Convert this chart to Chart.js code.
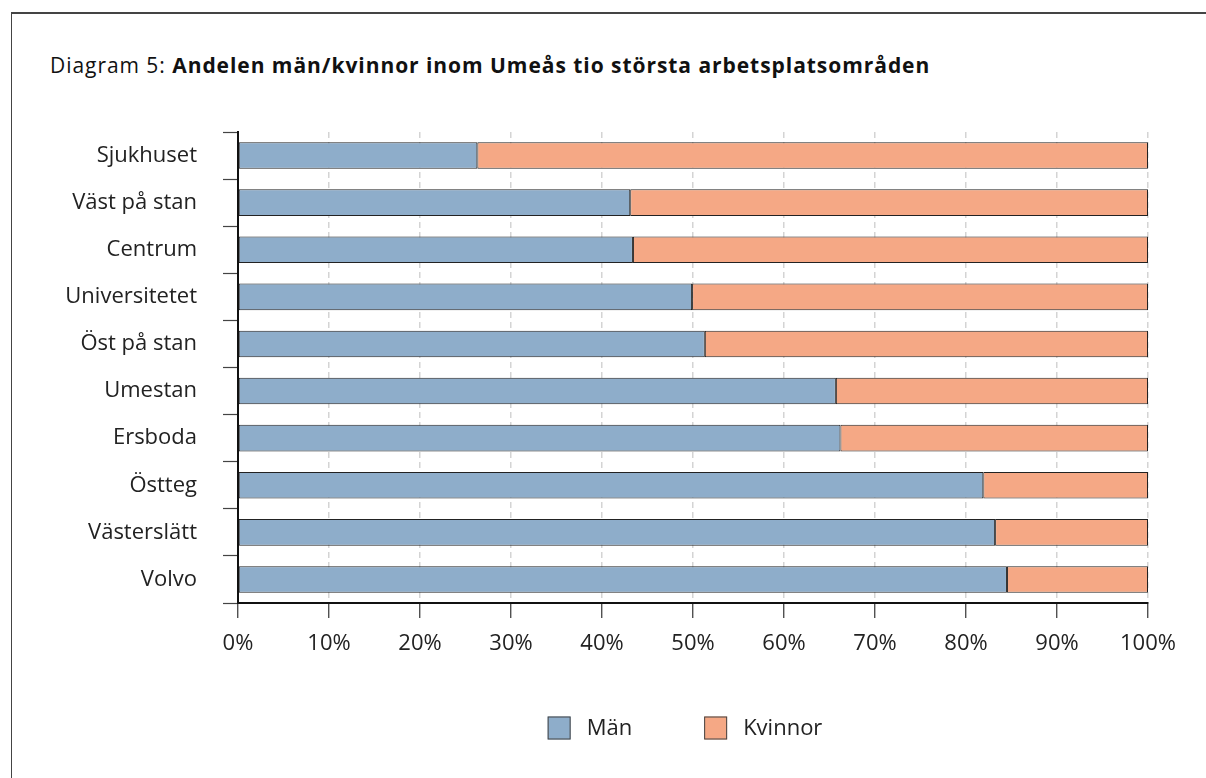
<!DOCTYPE html>
<html>
<head>
<meta charset="utf-8">
<script src="https://cdn.jsdelivr.net/npm/chart.js@4/dist/chart.umd.min.js"></script>
<style>
  body { margin: 0; background: #fff; }
  #frame { position: absolute; left: 11px; top: 12px; width: 1300px; height: 900px;
           border-top: 2px solid #444; border-left: 1.5px solid #444; }
  #title { position: absolute; left: 50px; top: 51px; font-family: 'Open Sans', sans-serif;
           font-size: 21px; letter-spacing: 0.95px; color: #111; white-space: nowrap; }
  #title b { font-weight: bold; }
  #wrap { position: absolute; left: 0; top: 0; width: 1206px; height: 778px; }
</style>
</head>
<body>
<div id="frame"></div>
<div id="title">Diagram 5: <b>Andelen män/kvinnor inom Umeås tio största arbetsplatsområden</b></div>
<div id="wrap"><canvas id="myChart" width="1206" height="778"></canvas></div>
<script>
// arbetsplatsområden, från toppen
const areas = ['Sjukhuset', 'Väst på stan', 'Centrum', 'Universitetet', 'Öst på stan',
               'Umestan', 'Ersboda', 'Östteg', 'Västerslätt', 'Volvo'];
// andel i procent
const men   = [26.3, 43.1, 43.4, 49.9, 51.3, 65.7, 66.2, 81.9, 83.2, 84.5];
const women = [73.7, 56.9, 56.6, 50.1, 48.7, 34.3, 33.8, 18.1, 16.8, 15.5];
const seriesNames = ['Män', 'Kvinnor'];
const xTicks = [0, 10, 20, 30, 40, 50, 60, 70, 80, 90, 100];

Chart.defaults.font.family = "'Open Sans', sans-serif";
Chart.defaults.font.size = 22;
Chart.defaults.color = '#222';

// legend under the chart, drawn by hand so the spacing matches
const bottomLegend = {
    id: 'bottomLegend',
    afterDraw(chart) {
        const c = chart.ctx;
        const area = chart.chartArea;
        const sets = chart.data.datasets;
        const box = 23, gap = 16, spacing = 72;
        c.save();
        c.font = "22px 'Open Sans', sans-serif";
        c.textBaseline = 'middle';
        const widths = sets.map(d => box + gap + c.measureText(d.label).width);
        const total = widths.reduce((a, b) => a + b, 0) + spacing * (sets.length - 1);
        let x = (area.left + area.right) / 2 - 8 - total / 2;
        const y = area.bottom + 125;
        sets.forEach((d, i) => {
            c.fillStyle = d.backgroundColor;
            c.fillRect(x, y - box / 2, box, box);
            c.lineWidth = 1;
            c.strokeStyle = '#444';
            c.strokeRect(x + 0.5, y - box / 2 + 0.5, box - 1, box - 1);
            c.fillStyle = '#222';
            c.fillText(d.label, x + box + gap, y + 1);
            x += widths[i] + spacing;
        });
        c.restore();
    }
};

var ctx = document.getElementById('myChart').getContext('2d');
const myChart = new Chart(ctx, {
    type: 'bar',
    data: {
        labels: areas,
        datasets: [{
            label: seriesNames[0],
            data: men,
            backgroundColor: '#8eadca',
            borderColor: '#222',
            borderWidth: 1,
            borderSkipped: false,
        }, {
            label: seriesNames[1],
            data: women,
            backgroundColor: '#f5a885',
            borderColor: '#222',
            borderWidth: 1,
            borderSkipped: false,
        }]
    },
    options: {
        indexAxis: 'y',
        responsive: false,
        animation: false,
        layout: { padding: { left: 0, right: 58, top: 132, bottom: 115 } },
        datasets: { bar: { categoryPercentage: 1, barPercentage: 0.565 } },
        scales: {
            x: {
                stacked: true,
                min: 0,
                max: 100,
                afterBuildTicks: (scale) => { scale.ticks = xTicks.map(v => ({ value: v })); },
                afterFit: (scale) => { scale.height = 60; },
                ticks: { padding: 13, callback: (v) => v + '%', color: '#222', maxRotation: 0 },
                grid: { color: '#d4d4d4', lineWidth: 1.5, tickColor: '#333', tickLength: 15,
                        tickWidth: 1.2, tickBorderDash: [] },
                border: { color: '#111', width: 2, dash: [6, 4] }
            },
            y: {
                stacked: true,
                afterFit: (scale) => { scale.width = 238; },
                ticks: { padding: 26, color: '#222' },
                grid: { drawOnChartArea: false, offset: true, tickLength: 15,
                        tickColor: '#444', tickWidth: 1.2 },
                border: { color: '#111', width: 2 }
            }
        },
        plugins: {
            tooltip: { enabled: false },
            legend: { display: false }
        }
    },
    plugins: [bottomLegend]
});
</script>
</body>
</html>
